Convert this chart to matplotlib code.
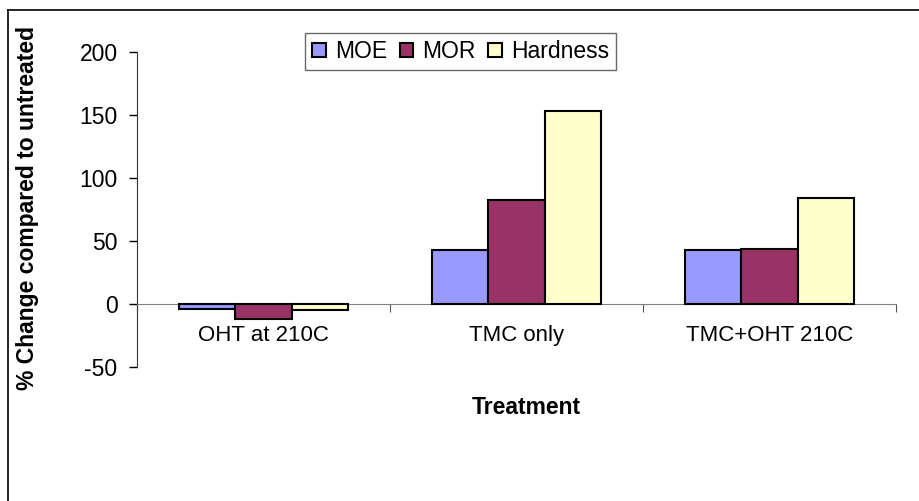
import matplotlib.pyplot as plt
import numpy as np
from matplotlib.patches import Patch

plt.rcParams['font.family'] = ['Liberation Sans', 'DejaVu Sans']
plt.rcParams['axes.unicode_minus'] = False

treatments = ['OHT at 210C', 'TMC only', 'TMC+OHT 210C']
series = ['MOE', 'MOR', 'Hardness']
moe = [-4, 43, 43]
mor = [-12, 82.5, 44]
hardness = [-4.5, 153, 84]
colors = ['#9999FF', '#993366', '#FFFFCC']

fig = plt.figure(figsize=(9.2, 5.01), dpi=100)
ax = fig.add_axes([137/920, 1-367/501, 759/920, 315/501])

x = np.arange(len(treatments))
w = 1/4.5
for i, vals in enumerate([moe, mor, hardness]):
    ax.bar(x + (i-1)*w, vals, width=w, color=colors[i],
           edgecolor='black', linewidth=1.5, zorder=3)

ax.set_xlim(-0.5, 2.5)
ax.set_ylim(-50, 200)
ax.set_yticks(np.arange(-50, 201, 50))
ax.tick_params(axis='y', labelsize=16.5, length=6, width=1, direction='out', pad=8)

for s in ['top', 'right']:
    ax.spines[s].set_visible(False)
ax.spines['bottom'].set_position(('data', 0))
ax.spines['bottom'].set_color('#808080')
ax.spines['left'].set_color('#333333')

ax.set_xticks([-0.5, 0.5, 1.5, 2.5])
ax.set_xticklabels([])
ax.set_xticks(x, minor=True)
ax.set_xticklabels(treatments, minor=True)
ax.tick_params(axis='x', which='major', length=6, color='#555555', direction='out')
ax.tick_params(axis='x', which='minor', length=0, pad=15, labelsize=16)

fig.text(526/920, 1-408/501, 'Treatment', ha='center', va='center',
         fontsize=16.5, fontweight='bold')
fig.text(28/920, 1-208/501, '% Change compared to untreated', ha='center',
         va='center', rotation=90, fontsize=16.5, fontweight='bold')

handles = [Patch(facecolor=c, edgecolor='black', linewidth=1.5) for c in colors]
leg = ax.legend(handles, series, ncol=3, loc='upper left',
                bbox_to_anchor=(305/920, 1-33/501), bbox_transform=fig.transFigure,
                fontsize=16.5, frameon=True, fancybox=False, shadow=False,
                handlelength=0.6, handleheight=0.6, handletextpad=0.4,
                columnspacing=0.55, borderpad=0.3, borderaxespad=0)
leg.get_frame().set_edgecolor('#444444')
leg.get_frame().set_linewidth(1)

# outer chart border (cropped at right and bottom)
fig.add_artist(plt.Line2D([8/920, 8/920], [0, 1-10/501], color='black', lw=1.2,
                          transform=fig.transFigure))
fig.add_artist(plt.Line2D([8/920, 1], [1-10/501, 1-10/501], color='black', lw=1.2,
                          transform=fig.transFigure))

fig.savefig('out.png', dpi=100)
